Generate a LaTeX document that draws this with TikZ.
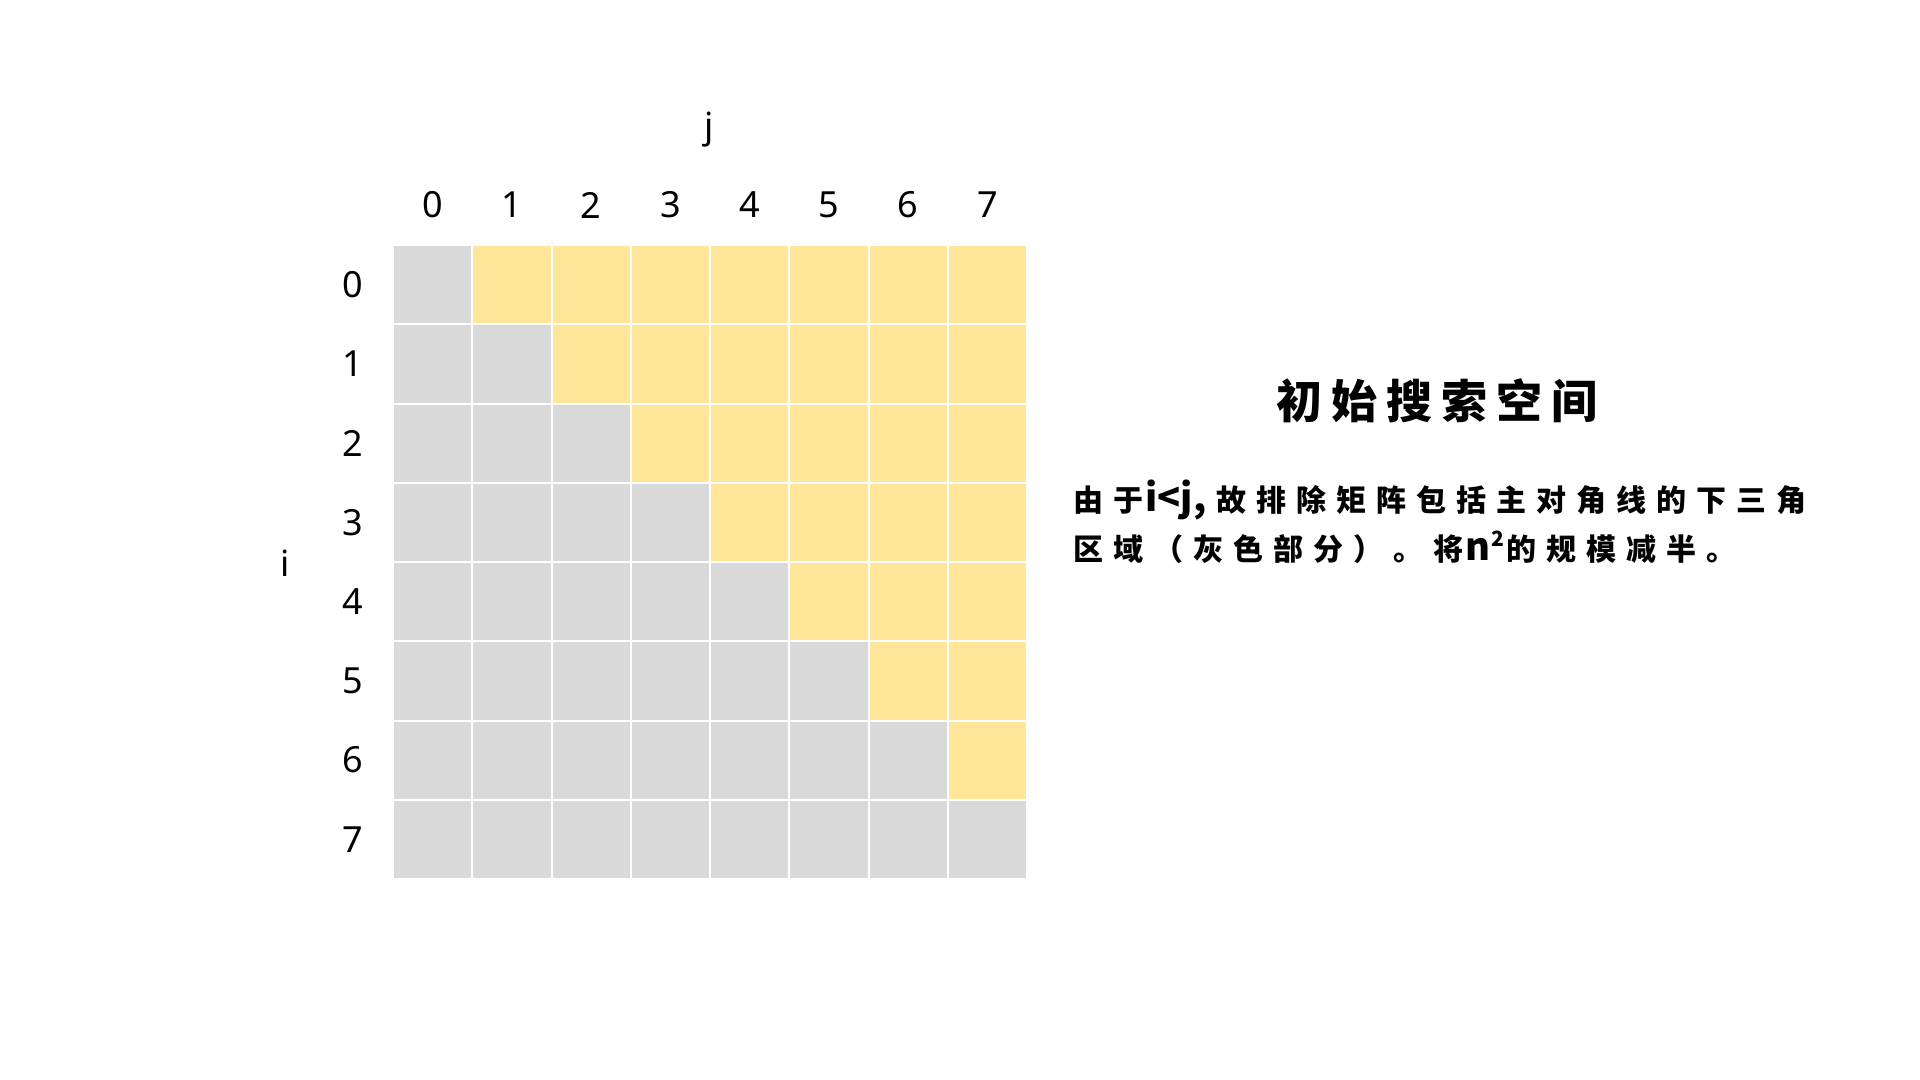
\documentclass[tikz,border=0pt]{standalone}
\usepackage{fontspec}
\setmainfont{Noto Sans}
\newfontfamily\cjkbody[LetterSpace=33.3]{Noto Sans CJK SC}
\newfontfamily\cjkplain{Noto Sans CJK SC}
\newfontfamily\cjktitle[LetterSpace=20]{Noto Sans CJK SC}
\newcommand{\latinpart}[1]{{\cjkplain\bfseries\fontsize{19pt}{20pt}\selectfont #1}}
\definecolor{cellgray}{HTML}{D9D9D9}
\definecolor{cellyellow}{HTML}{FFE699}
\begin{document}
\begin{tikzpicture}[x=0.5pt,y=-0.5pt,
  cell/.style={draw=white,line width=1pt,minimum size=39.625pt,inner sep=0pt,outer sep=0pt},
  lab/.style={inner sep=0pt,font=\fontsize{18pt}{20pt}\selectfont},
  titletext/.style={inner sep=0pt,font=\cjktitle\bfseries\fontsize{23pt}{26pt}\selectfont},
  bodytext/.style={inner sep=0pt,anchor=base west,font=\cjkbody\bfseries\fontsize{15pt}{18pt}\selectfont}]
\useasboundingbox[fill=white] (0,0) rectangle (1920,1080);
\foreach \i in {0,...,7}{
  \foreach \j in {0,...,7}{
    \ifnum\j>\i \def\cc{cellyellow}\else\def\cc{cellgray}\fi
    \node[cell,fill=\cc] (c-\i-\j) at ({393+79.25*(\j+0.5)},{245+79.25*(\i+0.5)}) {};
  }
}
\foreach \k in {0,...,7}{
  \node[lab] (col-\k) at ({393+79.25*(\k+0.5)},205) {\k};
  \node[lab] (row-\k) at (353,{245+79.25*(\k+0.5)}) {\k};
}
\node[lab] (jlab) at (709,130) {j};
\node[lab] (ilab) at (285,563) {i};
\node[titletext] (title) at (1437,401) {初始搜索空间};
\node[bodytext] (line1) at (1073,511) {由于\kern1pt\latinpart{i<j,}\hspace{5pt}故排除矩阵包括主对角线的下三角};
\node[bodytext] (line2) at (1073,560) {区域（灰色部分）。将\kern1pt\latinpart{n\kern0.5pt\raisebox{7pt}{\fontsize{10.5pt}{11pt}\selectfont 2}}\kern1pt的规模减半。};
\end{tikzpicture}
\end{document}
